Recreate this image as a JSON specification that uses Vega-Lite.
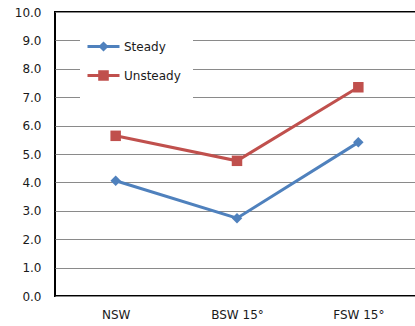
{
  "$schema": "https://vega.github.io/schema/vega-lite/v6.json",
  "width": 364,
  "height": 284,
  "autosize": "none",
  "padding": {"left": 55, "top": 12, "right": 0, "bottom": 30},
  "background": "white",
  "config": {
    "view": {"stroke": "black", "strokeWidth": 2},
    "font": "DejaVu Sans"
  },
  "data": {
    "values": [
      {"cat": "NSW", "series": "Steady", "value": 4.06},
      {"cat": "BSW 15°", "series": "Steady", "value": 2.74},
      {"cat": "FSW 15°", "series": "Steady", "value": 5.41},
      {"cat": "NSW", "series": "Unsteady", "value": 5.64},
      {"cat": "BSW 15°", "series": "Unsteady", "value": 4.76},
      {"cat": "FSW 15°", "series": "Unsteady", "value": 7.35}
    ]
  },
  "encoding": {
    "x": {
      "field": "cat",
      "type": "nominal",
      "sort": ["NSW", "BSW 15°", "FSW 15°"],
      "scale": {"type": "point", "padding": 0.5},
      "axis": {
        "title": null,
        "labelAngle": 0,
        "domain": false,
        "ticks": false,
        "grid": false,
        "labelPadding": 13,
        "labelFontSize": 12,
        "labelColor": "#1a1a1a"
      }
    },
    "y": {
      "field": "value",
      "type": "quantitative",
      "scale": {"domain": [0, 10], "nice": false},
      "axis": {
        "title": null,
        "values": [0, 1, 2, 3, 4, 5, 6, 7, 8, 9, 10],
        "format": ".1f",
        "ticks": false,
        "domain": false,
        "labelPadding": 14,
        "labelFontSize": 12,
        "labelColor": "#1a1a1a",
        "gridColor": "#8a8a8a",
        "gridWidth": 1
      }
    },
    "color": {
      "field": "series",
      "type": "nominal",
      "scale": {"domain": ["Steady", "Unsteady"], "range": ["#4F81BD", "#C0504D"]},
      "legend": {
        "title": null,
        "orient": "none",
        "legendX": 25,
        "legendY": 11,
        "padding": 12,
        "fillColor": "white",
        "symbolSize": 400,
        "rowPadding": 8,
        "labelOffset": 9,
        "labelFontSize": 12,
        "labelColor": "#1a1a1a",
        "encode": {
          "symbols": {
            "update": {
              "shape": {"signal": "datum.value === 'Steady' ? 'M-1.6,0H1.6M0,-0.3L0.3,0L0,0.3L-0.3,0Z' : 'M-1.6,0H1.6M-0.38,-0.38H0.38V0.38H-0.38Z'"},
              "strokeWidth": {"value": 3},
              "fill": {"signal": "datum.value === 'Steady' ? '#4F81BD' : '#C0504D'"},
              "stroke": {"signal": "datum.value === 'Steady' ? '#4F81BD' : '#C0504D'"},
              "opacity": {"value": 1},
              "fillOpacity": {"value": 1},
              "strokeOpacity": {"value": 1}
            }
          }
        }
      }
    }
  },
  "layer": [
    {"mark": {"type": "line", "strokeWidth": 3}},
    {
      "transform": [{"filter": "datum.series === 'Steady'"}],
      "mark": {"type": "point", "filled": true, "opacity": 1, "shape": "diamond", "size": 110}
    },
    {
      "transform": [{"filter": "datum.series === 'Unsteady'"}],
      "mark": {"type": "point", "filled": true, "opacity": 1, "shape": "square", "size": 110}
    }
  ]
}
